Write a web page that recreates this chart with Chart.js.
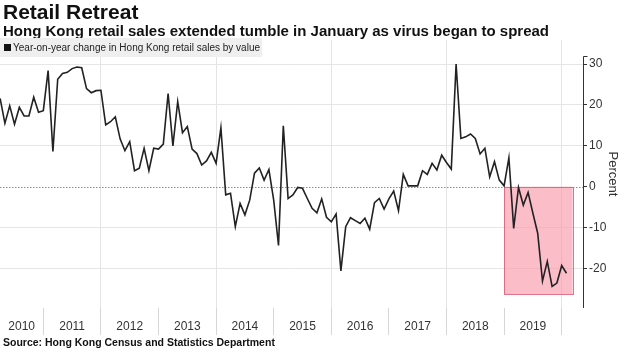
<!DOCTYPE html>
<html>
<head>
<meta charset="utf-8">
<script src="https://cdn.jsdelivr.net/npm/chart.js@4.4.0/dist/chart.umd.min.js"></script>
<style>
  body { margin: 0; background: #fff; font-family: "Liberation Sans", Arial, sans-serif; color: #111; }
  #wrap { position: relative; width: 620px; height: 348px; overflow: hidden; }
  #chart { position: absolute; left: 0; top: 0; }
  .txt { position: absolute; white-space: nowrap; }
  #title { left: 3px; top: 0px; font-size: 21px; font-weight: bold; line-height: 24px; }
  #subtitle { left: 3px; top: 22px; font-size: 15px; font-weight: bold; line-height: 18px; }
  #legend { left: 0; top: 38px; width: 262px; height: 19px; background: #efefef; font-size: 10px; line-height: 19px; color: #222; }
  #legend span.box { display: inline-block; width: 7px; height: 7px; background: #111; margin: 0 2px 0 4px; vertical-align: -0px; }
  #source { left: 3px; top: 336px; font-size: 10.5px; font-weight: bold; line-height: 12px; }
</style>
</head>
<body>
<div id="wrap">
  <canvas id="chart" width="620" height="348"></canvas>
  <div class="txt" id="title">Retail Retreat</div>
  <div class="txt" id="subtitle">Hong Kong retail sales extended tumble in January as virus began to spread</div>
  <div class="txt" id="legend"><span class="box"></span>Year-on-year change in Hong Kong retail sales by value</div>
  <div class="txt" id="source">Source: Hong Kong Census and Statistics Department</div>
</div>
<script>
// monthly readings, Mar 2010 - Jan 2020 (percent, yoy)
const months = [];
for (let y = 2010; y <= 2020; y++) {
  for (let m = 1; m <= 12; m++) {
    if ((y === 2010 && m < 3) || (y === 2020 && m > 1)) continue;
    months.push(y + '-' + String(m).padStart(2, '0'));
  }
}

const values2010 = [21.6, 15.5, 19.8, 15.3, 19.4, 17.3, 17.3, 21.9, 18.2, 18.6];
const values2011 = [28.4, 8.6, 26.3, 27.7, 28.0, 28.9, 29.3, 29.1, 24.0, 23.0, 23.5, 23.6];
const values2012 = [15.1, 15.9, 17.1, 11.7, 8.8, 11.0, 3.9, 4.5, 9.4, 3.9, 9.4, 9.2];
const values2013 = [10.4, 22.8, 10.0, 20.8, 13.2, 14.7, 9.2, 8.1, 5.3, 6.3, 8.4, 5.7];
const values2014 = [14.4, -2.0, -1.6, -9.8, -4.1, -6.9, -3.3, 3.3, 4.6, 1.6, 4.2, -3.3];
const values2015 = [-14.4, 14.9, -2.9, -2.0, -0.2, -0.4, -2.9, -5.3, -6.4, -3.0, -7.5, -8.6];
const values2016 = [-6.7, -20.6, -9.8, -7.6, -8.3, -9.0, -7.7, -10.4, -3.9, -2.9, -5.5, -3.0];
const values2017 = [-1.1, -5.9, 3.0, 0.2, 0.2, 0.2, 3.9, 3.0, 5.7, 4.1, 7.7, 5.9];
const values2018 = [4.3, 30.0, 11.8, 12.2, 12.9, 11.8, 8.0, 9.4, 2.4, 6.1, 1.6, 0.2];
const values2019 = [7.1, -10.2, -0.2, -4.5, -1.4, -6.5, -11.4, -23.1, -18.3, -24.4, -23.6, -19.3];
const values2020 = [-21.2];

const retailChange = [].concat(values2010, values2011, values2012, values2013, values2014,
  values2015, values2016, values2017, values2018, values2019, values2020);

const yearLabels = ['2010', '2011', '2012', '2013', '2014', '2015', '2016', '2017', '2018', '2019'];
const yTicks = [-20, -10, 0, 10, 20, 30];

// shaded box around the 2019 slump
const shadeFrom = 2019.0;
const shadeTo = 2020.19;
const shadeLow = -26.3;

// month label -> fractional year (points sit at month end)
function monthToYear(label) {
  const parts = label.split('-');
  return Number(parts[0]) + Number(parts[1]) / 12;
}

const points = months.map((mo, i) => ({ x: monthToYear(mo), y: retailChange[i] }));

const xMin = 2010.248;
const xMax = 2020.37;

const extrasPlugin = {
  id: 'extras',
  beforeDatasetsDraw(chart) {
    const ctx = chart.ctx;
    const xs = chart.scales.x;
    const ys = chart.scales.y;
    const area = chart.chartArea;

    // zero line, dotted
    const y0 = Math.round(ys.getPixelForValue(0)) + 0.5;
    ctx.save();
    ctx.strokeStyle = '#8f8f8f';
    ctx.lineWidth = 1;
    ctx.setLineDash([1.5, 1.5]);
    ctx.beginPath();
    ctx.moveTo(area.left, y0);
    ctx.lineTo(area.right, y0);
    ctx.stroke();
    ctx.restore();

    // pink highlight box
    const bx1 = xs.getPixelForValue(shadeFrom);
    const bx2 = xs.getPixelForValue(shadeTo);
    const by1 = ys.getPixelForValue(0);
    const by2 = ys.getPixelForValue(shadeLow);
    ctx.save();
    ctx.fillStyle = 'rgba(248, 150, 168, 0.62)';
    ctx.fillRect(bx1, by1, bx2 - bx1, by2 - by1);
    ctx.strokeStyle = 'rgba(222, 100, 125, 0.9)';
    ctx.lineWidth = 1;
    ctx.strokeRect(Math.round(bx1) + 0.5, Math.round(by1) + 0.5, Math.round(bx2 - bx1), Math.round(by2 - by1));
    ctx.restore();
  },
  afterDraw(chart) {
    const ctx = chart.ctx;
    const xs = chart.scales.x;
    const ys = chart.scales.y;
    const area = chart.chartArea;

    // right axis line
    const ax = Math.round(area.right) + 0.5;
    const topY = Math.round(ys.getPixelForValue(32)) + 0.5;
    ctx.save();
    ctx.strokeStyle = '#333';
    ctx.lineWidth = 1;
    ctx.beginPath();
    ctx.moveTo(ax + 4, topY);
    ctx.lineTo(ax, topY);
    ctx.lineTo(ax, area.bottom);
    ctx.stroke();
    ctx.restore();

    // year labels centred between the year ticks
    ctx.save();
    ctx.fillStyle = '#333';
    ctx.font = '12px "Liberation Sans", Arial, sans-serif';
    ctx.textAlign = 'center';
    ctx.textBaseline = 'middle';
    yearLabels.forEach(lbl => {
      const y = Number(lbl);
      const left = xs.getPixelForValue(Math.max(y, xMin));
      const right = xs.getPixelForValue(Math.min(y + 1, xMax));
      ctx.fillText(lbl, (left + right) / 2, 327);
    });
    ctx.restore();
  }
};

const ctx = document.getElementById('chart').getContext('2d');
new Chart(ctx, {
  type: 'line',
  data: {
    datasets: [{
      label: 'Year-on-year change in Hong Kong retail sales by value',
      data: points,
      borderColor: '#222',
      borderWidth: 1.6,
      pointRadius: 0,
      tension: 0,
      fill: false
    }]
  },
  options: {
    responsive: false,
    animation: false,
    devicePixelRatio: 1,
    layout: { padding: { top: 40, left: 0, right: 0, bottom: 0 } },
    plugins: {
      legend: { display: false },
      tooltip: { enabled: false }
    },
    scales: {
      x: {
        type: 'linear',
        min: xMin,
        max: xMax,
        afterBuildTicks: scale => {
          scale.ticks = [];
          for (let y = 2011; y <= 2020; y++) scale.ticks.push({ value: y });
        },
        afterFit: scale => { scale.height = 40; },
        ticks: { display: false },
        border: { display: false },
        grid: {
          color: c => (c.tick && Math.round(c.tick.value) % 2 === 0) ? '#e4e4e4' : 'rgba(0,0,0,0)',
          tickColor: '#d6d6d6',
          tickLength: 27,
          lineWidth: 1
        }
      },
      y: {
        position: 'right',
        min: -29.7,
        max: 35.9,
        afterBuildTicks: scale => {
          scale.ticks = yTicks.map(v => ({ value: v }));
        },
        afterFit: scale => { scale.width = 37; },
        border: { display: false },
        grid: {
          color: c => (c.tick && c.tick.value === 0) ? 'rgba(0,0,0,0)' : '#e6e6e6',
          tickColor: '#333',
          tickLength: 4
        },
        ticks: {
          color: '#333',
          padding: 2,
          font: { family: '"Liberation Sans", Arial, sans-serif', size: 12 }
        },
        title: {
          display: true,
          text: 'Percent',
          color: '#333',
          padding: 0,
          font: { family: '"Liberation Sans", Arial, sans-serif', size: 13 }
        }
      }
    }
  },
  plugins: [extrasPlugin]
});
</script>
</body>
</html>
